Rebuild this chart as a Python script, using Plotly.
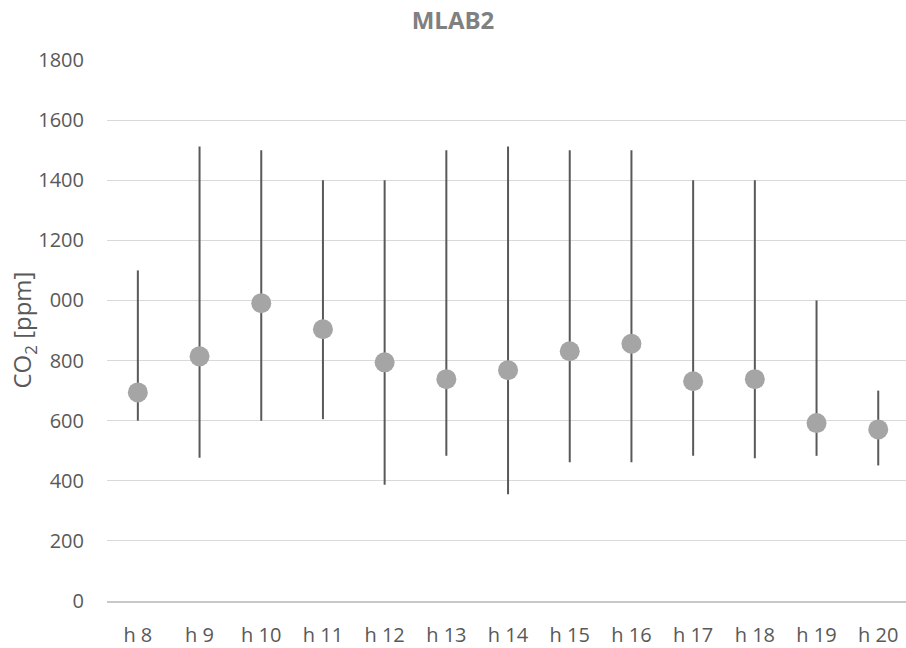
import plotly.graph_objects as go

# Hourly CO2 concentration in room MLAB2: mean with min/max range
hours = ["h 8", "h 9", "h 10", "h 11", "h 12", "h 13", "h 14",
         "h 15", "h 16", "h 17", "h 18", "h 19", "h 20"]
co2_mean = [694, 814, 991, 904, 794, 738, 768, 831, 856, 731, 738, 592, 571]
co2_max = [1100, 1512, 1500, 1400, 1400, 1500, 1512, 1500, 1500, 1400, 1400, 1000, 700]
co2_min = [600, 477, 600, 605, 387, 483, 355, 462, 462, 483, 475, 483, 451]
y_ticks = [0, 200, 400, 600, 800, 1000, 1200, 1400, 1600, 1800]

err_up = [hi - m for hi, m in zip(co2_max, co2_mean)]
err_down = [m - lo for lo, m in zip(co2_min, co2_mean)]

FONT = "Open Sans"
TXT = "#595959"

fig = go.Figure(
    go.Scatter(
        x=hours,
        y=co2_mean,
        mode="markers",
        marker=dict(size=20, color="#a5a5a5", line=dict(width=0)),
        error_y=dict(
            type="data",
            symmetric=False,
            array=err_up,
            arrayminus=err_down,
            color="#595959",
            thickness=2,
            width=0,
        ),
        showlegend=False,
        hoverinfo="x+y",
    )
)

fig.update_layout(
    width=906,
    height=648,
    margin=dict(l=107, r=0, t=60, b=40),
    paper_bgcolor="white",
    plot_bgcolor="white",
    font=dict(family=FONT, color=TXT),
    title=dict(
        text="<b>MLAB2</b>",
        x=0.5,
        xref="container",
        xanchor="center",
        y=1 - 21 / 648,
        yref="container",
        yanchor="middle",
        font=dict(family=FONT, size=24, color="#808080"),
    ),
)

fig.update_xaxes(
    type="category",
    range=[-0.5, 12.45],
    showgrid=False,
    showline=True,
    linecolor="#c8c8c8",
    linewidth=1.5,
    ticks="outside",
    ticklen=15,
    tickcolor="rgba(0,0,0,0)",
    tickfont=dict(family=FONT, size=20, color=TXT),
    fixedrange=True,
)

fig.update_yaxes(
    range=[0, 1800],
    tickvals=y_ticks,
    ticktext=[str(v) for v in y_ticks],
    showgrid=True,
    gridcolor="#d9d9d9",
    gridwidth=1,
    zeroline=False,
    showline=False,
    ticks="outside",
    ticklen=18,
    tickcolor="rgba(0,0,0,0)",
    tickfont=dict(family=FONT, size=20, color=TXT),
    fixedrange=True,
)

# Axis title box (white background overlaps the tick label column edge)
fig.add_annotation(
    text="CO<sub>2</sub> [ppm]",
    textangle=-90,
    xref="paper",
    yref="paper",
    x=(23 - 107) / 799,
    y=0.5,
    xanchor="center",
    yanchor="middle",
    showarrow=False,
    height=50,
    bgcolor="white",
    font=dict(family=FONT, size=24, color=TXT),
)

fig.write_html("out.html")
